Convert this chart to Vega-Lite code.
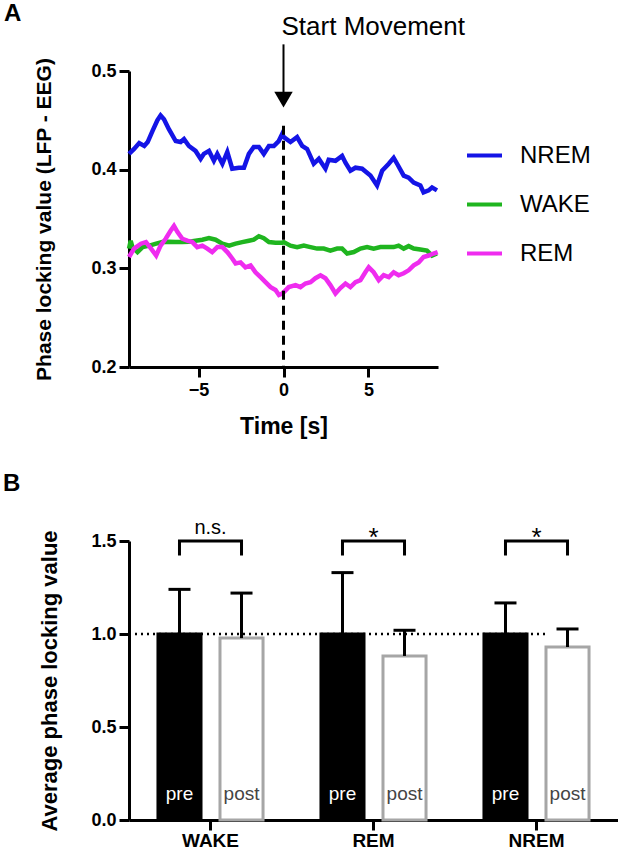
{
  "$schema": "https://vega.github.io/schema/vega-lite/v6.json",
  "padding": {"left": 3, "top": 1, "right": 0, "bottom": 0},
  "spacing": 33,
  "resolve": {"scale": {"color": "independent"}, "legend": {"color": "independent"}},
  "datasets": {
    "ts": [
      {"s":"NREM","t":-9.1,"v":0.416},{"s":"NREM","t":-8.8,"v":0.421},{"s":"NREM","t":-8.5,"v":0.427},{"s":"NREM","t":-8.2,"v":0.424},{"s":"NREM","t":-8.0,"v":0.428},{"s":"NREM","t":-7.72,"v":0.439},{"s":"NREM","t":-7.43,"v":0.45},{"s":"NREM","t":-7.24,"v":0.455},{"s":"NREM","t":-7.04,"v":0.451},{"s":"NREM","t":-6.75,"v":0.441},{"s":"NREM","t":-6.35,"v":0.429},{"s":"NREM","t":-6.06,"v":0.428},{"s":"NREM","t":-5.86,"v":0.431},{"s":"NREM","t":-5.57,"v":0.424},{"s":"NREM","t":-5.18,"v":0.419},{"s":"NREM","t":-4.88,"v":0.411},{"s":"NREM","t":-4.69,"v":0.416},{"s":"NREM","t":-4.39,"v":0.419},{"s":"NREM","t":-4.1,"v":0.409},{"s":"NREM","t":-3.9,"v":0.416},{"s":"NREM","t":-3.6,"v":0.406},{"s":"NREM","t":-3.31,"v":0.418},{"s":"NREM","t":-3.02,"v":0.401},{"s":"NREM","t":-2.63,"v":0.402},{"s":"NREM","t":-2.33,"v":0.402},{"s":"NREM","t":-2.04,"v":0.416},{"s":"NREM","t":-1.75,"v":0.423},{"s":"NREM","t":-1.45,"v":0.423},{"s":"NREM","t":-1.16,"v":0.416},{"s":"NREM","t":-0.86,"v":0.424},{"s":"NREM","t":-0.57,"v":0.424},{"s":"NREM","t":-0.28,"v":0.429},{"s":"NREM","t":-0.08,"v":0.436},{"s":"NREM","t":0.02,"v":0.433},{"s":"NREM","t":0.41,"v":0.428},{"s":"NREM","t":0.8,"v":0.433},{"s":"NREM","t":1.1,"v":0.424},{"s":"NREM","t":1.39,"v":0.421},{"s":"NREM","t":1.78,"v":0.406},{"s":"NREM","t":2.08,"v":0.411},{"s":"NREM","t":2.47,"v":0.401},{"s":"NREM","t":2.66,"v":0.41},{"s":"NREM","t":3.06,"v":0.409},{"s":"NREM","t":3.45,"v":0.414},{"s":"NREM","t":3.65,"v":0.407},{"s":"NREM","t":3.94,"v":0.399},{"s":"NREM","t":4.24,"v":0.402},{"s":"NREM","t":4.63,"v":0.401},{"s":"NREM","t":5.12,"v":0.394},{"s":"NREM","t":5.51,"v":0.384},{"s":"NREM","t":5.81,"v":0.399},{"s":"NREM","t":6.2,"v":0.406},{"s":"NREM","t":6.49,"v":0.412},{"s":"NREM","t":6.69,"v":0.406},{"s":"NREM","t":7.08,"v":0.394},{"s":"NREM","t":7.37,"v":0.392},{"s":"NREM","t":7.67,"v":0.387},{"s":"NREM","t":8.06,"v":0.384},{"s":"NREM","t":8.25,"v":0.377},{"s":"NREM","t":8.55,"v":0.379},{"s":"NREM","t":8.75,"v":0.382},{"s":"NREM","t":9.04,"v":0.379},
      {"s":"WAKE","t":-9.1,"v":0.32},{"s":"WAKE","t":-9.0,"v":0.328},{"s":"WAKE","t":-8.9,"v":0.3215},{"s":"WAKE","t":-8.6,"v":0.3165},{"s":"WAKE","t":-8.3,"v":0.3215},{"s":"WAKE","t":-7.9,"v":0.323},{"s":"WAKE","t":-7.5,"v":0.325},{"s":"WAKE","t":-7.14,"v":0.3266},{"s":"WAKE","t":-6.75,"v":0.327},{"s":"WAKE","t":-6.35,"v":0.3266},{"s":"WAKE","t":-5.96,"v":0.3266},{"s":"WAKE","t":-5.57,"v":0.327},{"s":"WAKE","t":-5.18,"v":0.328},{"s":"WAKE","t":-4.78,"v":0.329},{"s":"WAKE","t":-4.39,"v":0.3306},{"s":"WAKE","t":-4.0,"v":0.329},{"s":"WAKE","t":-3.6,"v":0.325},{"s":"WAKE","t":-3.2,"v":0.323},{"s":"WAKE","t":-2.82,"v":0.325},{"s":"WAKE","t":-2.43,"v":0.3266},{"s":"WAKE","t":-2.04,"v":0.328},{"s":"WAKE","t":-1.75,"v":0.329},{"s":"WAKE","t":-1.45,"v":0.3326},{"s":"WAKE","t":-1.16,"v":0.3306},{"s":"WAKE","t":-0.86,"v":0.3266},{"s":"WAKE","t":-0.47,"v":0.326},{"s":"WAKE","t":-0.08,"v":0.326},{"s":"WAKE","t":0.02,"v":0.3266},{"s":"WAKE","t":0.41,"v":0.323},{"s":"WAKE","t":0.8,"v":0.3215},{"s":"WAKE","t":1.2,"v":0.323},{"s":"WAKE","t":1.59,"v":0.3215},{"s":"WAKE","t":1.98,"v":0.32},{"s":"WAKE","t":2.37,"v":0.32},{"s":"WAKE","t":2.76,"v":0.318},{"s":"WAKE","t":3.16,"v":0.32},{"s":"WAKE","t":3.45,"v":0.32},{"s":"WAKE","t":3.75,"v":0.315},{"s":"WAKE","t":4.14,"v":0.3165},{"s":"WAKE","t":4.53,"v":0.32},{"s":"WAKE","t":4.92,"v":0.3215},{"s":"WAKE","t":5.31,"v":0.32},{"s":"WAKE","t":5.71,"v":0.3215},{"s":"WAKE","t":6.1,"v":0.3215},{"s":"WAKE","t":6.49,"v":0.3215},{"s":"WAKE","t":6.78,"v":0.323},{"s":"WAKE","t":7.08,"v":0.32},{"s":"WAKE","t":7.37,"v":0.3225},{"s":"WAKE","t":7.67,"v":0.32},{"s":"WAKE","t":8.06,"v":0.319},{"s":"WAKE","t":8.45,"v":0.318},{"s":"WAKE","t":8.75,"v":0.313},{"s":"WAKE","t":9.04,"v":0.315},
      {"s":"REM","t":-9.1,"v":0.3115},{"s":"REM","t":-8.8,"v":0.32},{"s":"REM","t":-8.4,"v":0.325},{"s":"REM","t":-8.1,"v":0.3266},{"s":"REM","t":-7.8,"v":0.32},{"s":"REM","t":-7.5,"v":0.313},{"s":"REM","t":-7.24,"v":0.323},{"s":"REM","t":-6.94,"v":0.33},{"s":"REM","t":-6.65,"v":0.338},{"s":"REM","t":-6.45,"v":0.343},{"s":"REM","t":-6.25,"v":0.337},{"s":"REM","t":-5.96,"v":0.33},{"s":"REM","t":-5.67,"v":0.328},{"s":"REM","t":-5.37,"v":0.3266},{"s":"REM","t":-5.08,"v":0.3215},{"s":"REM","t":-4.78,"v":0.323},{"s":"REM","t":-4.49,"v":0.32},{"s":"REM","t":-4.2,"v":0.3165},{"s":"REM","t":-3.9,"v":0.3215},{"s":"REM","t":-3.6,"v":0.3215},{"s":"REM","t":-3.31,"v":0.3165},{"s":"REM","t":-3.02,"v":0.31},{"s":"REM","t":-2.82,"v":0.305},{"s":"REM","t":-2.53,"v":0.306},{"s":"REM","t":-2.24,"v":0.301},{"s":"REM","t":-1.94,"v":0.303},{"s":"REM","t":-1.65,"v":0.296},{"s":"REM","t":-1.35,"v":0.291},{"s":"REM","t":-1.06,"v":0.286},{"s":"REM","t":-0.76,"v":0.281},{"s":"REM","t":-0.47,"v":0.278},{"s":"REM","t":-0.27,"v":0.273},{"s":"REM","t":-0.08,"v":0.2745},{"s":"REM","t":0.02,"v":0.276},{"s":"REM","t":0.31,"v":0.281},{"s":"REM","t":0.71,"v":0.283},{"s":"REM","t":1.0,"v":0.281},{"s":"REM","t":1.29,"v":0.2846},{"s":"REM","t":1.59,"v":0.286},{"s":"REM","t":1.88,"v":0.29},{"s":"REM","t":2.18,"v":0.293},{"s":"REM","t":2.47,"v":0.29},{"s":"REM","t":2.76,"v":0.283},{"s":"REM","t":3.06,"v":0.2745},{"s":"REM","t":3.35,"v":0.28},{"s":"REM","t":3.65,"v":0.2846},{"s":"REM","t":3.94,"v":0.281},{"s":"REM","t":4.24,"v":0.286},{"s":"REM","t":4.53,"v":0.288},{"s":"REM","t":4.82,"v":0.296},{"s":"REM","t":5.02,"v":0.301},{"s":"REM","t":5.31,"v":0.296},{"s":"REM","t":5.61,"v":0.288},{"s":"REM","t":5.9,"v":0.293},{"s":"REM","t":6.2,"v":0.291},{"s":"REM","t":6.49,"v":0.296},{"s":"REM","t":6.78,"v":0.293},{"s":"REM","t":7.08,"v":0.295},{"s":"REM","t":7.37,"v":0.298},{"s":"REM","t":7.67,"v":0.303},{"s":"REM","t":7.96,"v":0.306},{"s":"REM","t":8.25,"v":0.3115},{"s":"REM","t":8.55,"v":0.313},{"s":"REM","t":8.84,"v":0.315},{"s":"REM","t":9.08,"v":0.3165}
    ],
    "bars": [
      {"cat":"WAKE","phase":"pre","mean":1.0,"upper":1.24},
      {"cat":"WAKE","phase":"post","mean":0.978,"upper":1.22},
      {"cat":"REM","phase":"pre","mean":1.0,"upper":1.33},
      {"cat":"REM","phase":"post","mean":0.882,"upper":1.02},
      {"cat":"NREM","phase":"pre","mean":1.0,"upper":1.167},
      {"cat":"NREM","phase":"post","mean":0.93,"upper":1.027}
    ],
    "brackets": [
      {"cat":"WAKE","phase":"pre","y":1.43,"o":1},{"cat":"WAKE","phase":"pre","y":1.5,"o":2},{"cat":"WAKE","phase":"post","y":1.5,"o":3},{"cat":"WAKE","phase":"post","y":1.43,"o":4},
      {"cat":"REM","phase":"pre","y":1.43,"o":1},{"cat":"REM","phase":"pre","y":1.5,"o":2},{"cat":"REM","phase":"post","y":1.5,"o":3},{"cat":"REM","phase":"post","y":1.43,"o":4},
      {"cat":"NREM","phase":"pre","y":1.43,"o":1},{"cat":"NREM","phase":"pre","y":1.5,"o":2},{"cat":"NREM","phase":"post","y":1.5,"o":3},{"cat":"NREM","phase":"post","y":1.43,"o":4}
    ],
    "sig": [
      {"cat":"WAKE","label":"n.s."},{"cat":"REM","label":"*"},{"cat":"NREM","label":"*"}
    ],
    "one": [{"ref": 1}]
  },
  "vconcat": [
    {
      "width": 309,
      "height": 296,
      "title": {"text": "A", "anchor": "start", "frame": "group", "dx": -125, "offset": -12, "fontSize": 24, "fontWeight": "bold", "color": "black"},
      "layer": [
        {
          "data": {"name": "ts"},
          "mark": {"type": "line", "strokeWidth": 4.5},
          "encoding": {
            "x": {"field": "t", "type": "quantitative", "scale": {"domain": [-9.1, 9.1], "nice": false, "zero": false},
                  "axis": {"values": [-5, 0, 5], "title": "Time [s]", "titleFontSize": 23, "labelFontSize": 18, "tickSize": 10, "labelPadding": 4, "titlePadding": 16}},
            "y": {"field": "v", "type": "quantitative", "scale": {"domain": [0.2, 0.5], "nice": false, "zero": false},
                  "axis": {"values": [0.2, 0.3, 0.4, 0.5], "format": ".1f", "title": "Phase locking value (LFP - EEG)", "titleFontSize": 21, "labelFontSize": 18, "tickSize": 10, "labelPadding": 3, "titlePadding": 36}},
            "color": {"field": "s", "type": "nominal", "sort": ["NREM", "WAKE", "REM"],
                      "scale": {"domain": ["NREM", "WAKE", "REM"], "range": ["#1414e6", "#1fb51f", "#ef2cef"]},
                      "legend": {"title": null, "orient": "none", "legendX": 336, "legendY": 65, "symbolType": "stroke", "symbolSize": 1225, "symbolStrokeWidth": 4, "labelFontSize": 24, "labelFont": "Liberation Sans", "labelColor": "black", "labelOffset": 16, "rowPadding": 17}}
          }
        },
        {
          "data": {"name": "one"},
          "mark": {"type": "rule", "strokeWidth": 3, "strokeDash": [9, 6], "color": "black"},
          "encoding": {"x": {"datum": 0}, "y": {"datum": 0.4445}, "y2": {"datum": 0.2}}
        },
        {
          "data": {"name": "one"},
          "mark": {"type": "rule", "strokeWidth": 2, "color": "black"},
          "encoding": {"x": {"datum": 0}, "y": {"datum": 0.527}, "y2": {"datum": 0.478}}
        },
        {
          "data": {"name": "one"},
          "mark": {"type": "point", "shape": "triangle-down", "filled": true, "color": "black", "size": 340, "opacity": 1},
          "encoding": {"x": {"datum": 0}, "y": {"datum": 0.471}}
        },
        {
          "data": {"name": "one"},
          "mark": {"type": "text", "text": "Start Movement", "align": "left", "baseline": "middle", "fontSize": 26, "color": "black", "dx": -2},
          "encoding": {"x": {"datum": 0}, "y": {"datum": 0.545}}
        }
      ]
    },
    {
      "width": 489,
      "height": 279,
      "title": {"text": "B", "anchor": "start", "frame": "group", "dx": -126, "offset": 22, "fontSize": 24, "fontWeight": "bold", "color": "black"},
      "resolve": {"scale": {"x": "independent"}},
      "layer": [
        {
          "data": {"name": "one"},
          "mark": {"type": "rule", "strokeWidth": 2.5, "strokeDash": [2, 4], "color": "black"},
          "encoding": {
            "x": {"datum": 0, "type": "quantitative", "scale": {"domain": [0, 3], "nice": false}, "axis": null},
            "x2": {"datum": 2.56},
            "y": {"field": "ref", "type": "quantitative"}
          }
        },
        {
          "layer": [
            {
              "data": {"name": "bars"},
              "mark": {"type": "bar", "strokeWidth": 3},
              "encoding": {
                "x": {"field": "cat", "type": "nominal", "sort": ["WAKE", "REM", "NREM"], "scale": {"paddingInner": 0, "paddingOuter": 0},
                      "axis": {"title": null, "labelAngle": 0, "labelFontSize": 19, "tickSize": 10, "labelPadding": 1}},
                "xOffset": {"field": "phase", "type": "nominal", "sort": ["pre", "post"], "scale": {"paddingInner": 0.306, "paddingOuter": 0.467}},
                "y": {"field": "mean", "type": "quantitative", "scale": {"domain": [0, 1.5], "nice": false},
                      "axis": {"values": [0, 0.5, 1, 1.5], "format": ".1f", "title": "Average phase locking value", "titleFontSize": 22, "labelFontSize": 18, "tickSize": 10, "labelPadding": 3, "titlePadding": 29}},
                "fill": {"field": "phase", "type": "nominal", "scale": {"domain": ["pre", "post"], "range": ["black", "white"]}, "legend": null},
                "stroke": {"field": "phase", "type": "nominal", "scale": {"domain": ["pre", "post"], "range": ["black", "#a6a6a6"]}, "legend": null}
              }
            },
            {
              "data": {"name": "bars"},
              "mark": {"type": "rule", "strokeWidth": 3, "color": "black"},
              "encoding": {
                "x": {"field": "cat", "type": "nominal", "sort": ["WAKE", "REM", "NREM"]},
                "xOffset": {"field": "phase", "type": "nominal", "sort": ["pre", "post"]},
                "y": {"field": "mean", "type": "quantitative"},
                "y2": {"field": "upper"}
              }
            },
            {
              "data": {"name": "bars"},
              "mark": {"type": "tick", "thickness": 3, "size": 22, "color": "black", "opacity": 1},
              "encoding": {
                "x": {"field": "cat", "type": "nominal", "sort": ["WAKE", "REM", "NREM"]},
                "xOffset": {"field": "phase", "type": "nominal", "sort": ["pre", "post"]},
                "y": {"field": "upper", "type": "quantitative"}
              }
            },
            {
              "data": {"name": "bars"},
              "mark": {"type": "text", "fontSize": 19, "baseline": "middle"},
              "encoding": {
                "x": {"field": "cat", "type": "nominal", "sort": ["WAKE", "REM", "NREM"]},
                "xOffset": {"field": "phase", "type": "nominal", "sort": ["pre", "post"]},
                "y": {"datum": 0.14},
                "text": {"field": "phase"},
                "color": {"field": "phase", "type": "nominal", "scale": {"domain": ["pre", "post"], "range": ["white", "#444444"]}, "legend": null}
              }
            },
            {
              "data": {"name": "brackets"},
              "mark": {"type": "line", "strokeWidth": 3, "color": "black", "strokeCap": "square"},
              "encoding": {
                "x": {"field": "cat", "type": "nominal", "sort": ["WAKE", "REM", "NREM"]},
                "xOffset": {"field": "phase", "type": "nominal", "sort": ["pre", "post"]},
                "y": {"field": "y", "type": "quantitative"},
                "detail": {"field": "cat"},
                "order": {"field": "o"}
              }
            },
            {
              "data": {"name": "sig"},
              "transform": [{"filter": "datum.label == 'n.s.'"}],
              "mark": {"type": "text", "fontSize": 20, "baseline": "middle", "color": "black"},
              "encoding": {
                "x": {"field": "cat", "type": "nominal", "sort": ["WAKE", "REM", "NREM"]},
                "y": {"datum": 1.57},
                "text": {"field": "label"}
              }
            },
            {
              "data": {"name": "sig"},
              "transform": [{"filter": "datum.label == '*'"}],
              "mark": {"type": "text", "fontSize": 26, "baseline": "alphabetic", "color": "black"},
              "encoding": {
                "x": {"field": "cat", "type": "nominal", "sort": ["WAKE", "REM", "NREM"]},
                "y": {"datum": 1.475},
                "text": {"field": "label"}
              }
            }
          ]
        }
      ]
    }
  ],
  "config": {
    "view": {"stroke": null},
    "font": "Liberation Sans",
    "title": {"font": "Liberation Sans"},
    "text": {"font": "Liberation Sans"},
    "axis": {"domainColor": "black", "domainWidth": 3, "tickColor": "black", "tickWidth": 3, "labelColor": "black", "titleColor": "black",
             "labelFont": "Liberation Sans", "titleFont": "Liberation Sans", "labelFontWeight": "bold", "titleFontWeight": "bold", "grid": false}
  }
}
